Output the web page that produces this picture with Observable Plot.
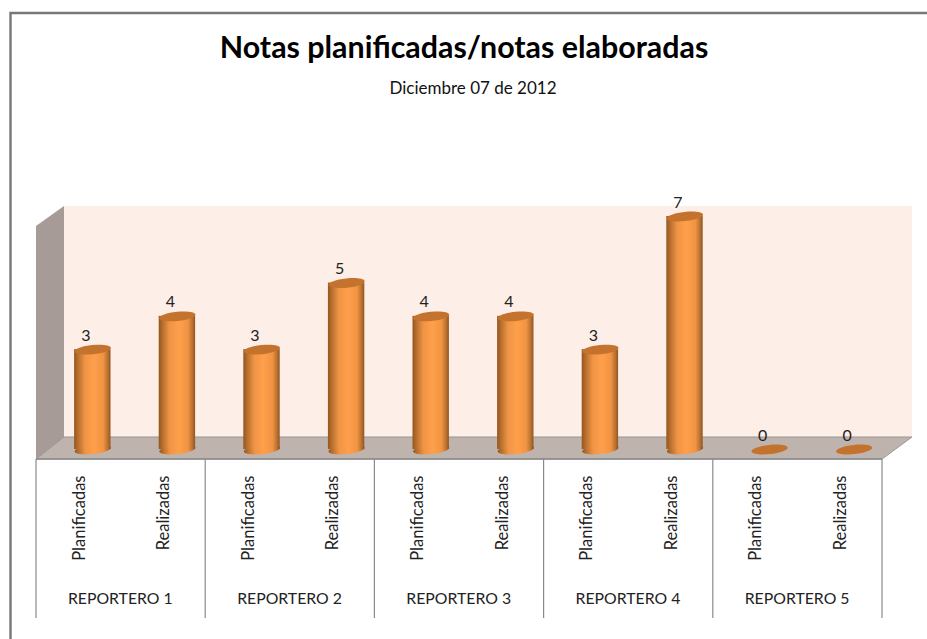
<!DOCTYPE html>
<html>
<head>
<meta charset="utf-8">
<script src="https://cdn.jsdelivr.net/npm/d3@7"></script>
<script src="https://cdn.jsdelivr.net/npm/@observablehq/plot@0.6"></script>
<style>
html,body{margin:0;padding:0;background:#fff}
svg{display:block}
</style>
</head>
<body>
<div id="chart"></div>
<script>
const titleText = "Notas planificadas/notas elaboradas";
const subtitleText = "Diciembre 07 de 2012";
const reporters = ["REPORTERO 1","REPORTERO 2","REPORTERO 3","REPORTERO 4","REPORTERO 5"];
const kinds = ["Planificadas","Realizadas"];
const planificadas = [3,3,4,3,0];
const realizadas = [4,5,4,7,0];
const wallTop = 7.3;

const rows = reporters.flatMap((r,i)=>[
  {key:r+"|"+kinds[0], reporter:r, kind:kinds[0], value:planificadas[i]},
  {key:r+"|"+kinds[1], reporter:r, kind:kinds[1], value:realizadas[i]}
]);
const firsts = rows.filter(d=>d.kind===kinds[0]);

const DX = 14, DY = 11; // half of the 3D depth

function tiltedEllipse(rx, ry, deg){
  const a = deg*Math.PI/180, c = Math.cos(a), s = Math.sin(a), k = 0.5523;
  const P = (u,v)=>[u*c - v*s, u*s + v*c];
  return {draw(ctx){
    let p = P(rx,0); ctx.moveTo(p[0],p[1]);
    const segs = [
      [[rx,k*ry],[k*rx,ry],[0,ry]],
      [[-k*rx,ry],[-rx,k*ry],[-rx,0]],
      [[-rx,-k*ry],[-k*rx,-ry],[0,-ry]],
      [[k*rx,-ry],[rx,-k*ry],[rx,0]]
    ];
    for(const [a1,a2,a3] of segs){
      const b1=P(...a1), b2=P(...a2), b3=P(...a3);
      ctx.bezierCurveTo(b1[0],b1[1],b2[0],b2[1],b3[0],b3[1]);
    }
    ctx.closePath();
  }};
}
const cap = tiltedEllipse(18.2,4.6,-6);

function backdrop(index,{x,y}){
  const svg = d3.create("svg:g");
  const defs = svg.append("defs");
  const g = defs.append("linearGradient").attr("id","cyl").attr("x1",0).attr("x2",1).attr("y1",0).attr("y2",0);
  [[0,"#94551f"],[0.1,"#b56d2c"],[0.3,"#ef9545"],[0.55,"#ff9f4b"],[0.8,"#f09443"],[0.93,"#b86f2f"],[1,"#8f5420"]]
    .forEach(([o,c])=>g.append("stop").attr("offset",o).attr("stop-color",c));
  const bw = x.bandwidth(), step = x.step();
  const left = x(rows[0].key) + bw/2 - step/2 - DX;
  const right = x(rows[rows.length-1].key) + bw/2 + step/2 - DX;
  const y0 = y(0), yt = y(wallTop);
  const poly = (pts,fill,stroke)=>svg.append("polygon")
    .attr("points",pts.map(p=>p.join(",")).join(" ")).attr("fill",fill).attr("stroke",stroke||"none");
  poly([[left+2*DX,yt],[right+2*DX+2,yt],[right+2*DX+2,y0-DY-1],[left+2*DX,y0-DY-1]],"#fdeee7");
  poly([[left,yt+20],[left+2*DX,yt],[left+2*DX,y0-DY-1],[left,y0+DY-1]],"#a69b96");
  poly([[left,y0+10],[left+2*DX,y0-12],[right+2*DX+2,y0-12],[right,y0+10]],"#bfb3ae","#969696");
  const lineC = "#8a8a8a";
  svg.append("line").attr("x1",left).attr("x2",right).attr("y1",y0+10).attr("y2",y0+10).attr("stroke",lineC).attr("stroke-width",1.6);
  for(let i=0;i<=reporters.length;i++){
    const lx = left + i*(right-left)/reporters.length;
    svg.append("line").attr("x1",lx).attr("x2",lx).attr("y1",y0+10).attr("y2",y0+169).attr("stroke",lineC).attr("stroke-width",1.2);
  }
  return svg.node();
}
function border(){
  const svg = d3.create("svg:g");
  svg.append("path").attr("d","M10.5 639V13H927").attr("fill","none").attr("stroke","#777").attr("stroke-width",2.4);
  return svg.node();
}

const chart = Plot.plot({
  width:927, height:639,
  marginLeft:0, marginRight:0, marginTop:0, marginBottom:0,
  style:{background:"#fff", fontFamily:"Lato, sans-serif"},
  x:{type:"band", domain:rows.map(d=>d.key), range:[50,896], paddingInner:0.57, paddingOuter:0.285, align:0.5, round:false, axis:null},
  y:{domain:[0,7], range:[449,216], axis:null},
  marks:[
    border,
    backdrop,
    Plot.dot(rows,{x:"key", y:()=>0, symbol:cap, r:1, fill:"url(#cyl)", stroke:"none", filter:d=>d.value>0}),
    Plot.barY(rows,{x:"key", y:"value", fill:"url(#cyl)"}),
    Plot.dot(rows,{x:"key", y:"value", symbol:cap, r:1, fill:"#c4732f", stroke:"none"}),
    Plot.text(rows,{x:"key", y:"value", text:d=>String(d.value), dx:-7, dy:-14, fontSize:16, fill:"#222"}),
    Plot.text(rows,{x:"key", text:"kind", frameAnchor:"top", dy:475, dx:-20, rotate:-90, textAnchor:"end", fontSize:16.5, fill:"#222"}),
    Plot.text(firsts,{x:"key", text:"reporter", frameAnchor:"top", dy:592, dx:27.5, fontSize:15.8, fill:"#222"}),
    Plot.text([titleText],{text:d=>d, frameAnchor:"top", dy:36, fontSize:30.4, fontWeight:700, fill:"#000"}),
    Plot.text([subtitleText],{text:d=>d, frameAnchor:"top", dy:81, dx:9, fontSize:17, fill:"#111"})
  ]
});
document.getElementById("chart").appendChild(chart);
</script>
</body>
</html>
